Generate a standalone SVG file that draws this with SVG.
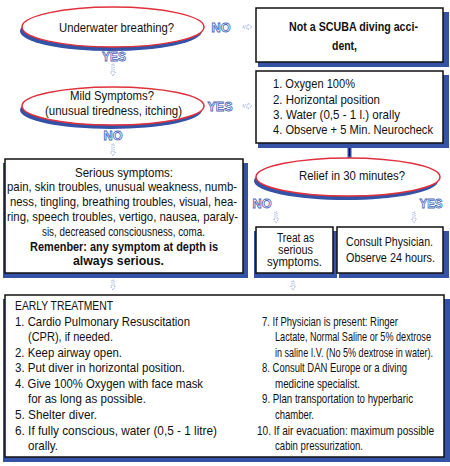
<svg xmlns="http://www.w3.org/2000/svg" width="450" height="466" viewBox="0 0 450 466">
<style>
.t{font-family:"Liberation Sans Narrow","Liberation Sans",Arial,sans-serif;font-size:13px;fill:#111}
.s{font-size:12px}
.b{font-weight:bold}
.m{text-anchor:middle}
.box{fill:#fff;stroke:#111;stroke-width:1.5}
.sh{fill:#3452a6}
.el{fill:#fff;stroke:#e0303c;stroke-width:1.5}
.lbl{font-family:"Liberation Sans Narrow","Liberation Sans",Arial,sans-serif;font-size:12px;font-weight:bold;fill:#fff;stroke:#4b67b8;stroke-width:0.8;text-anchor:middle}
.arr{fill:none;stroke:#8ea2d6;stroke-width:0.9;stroke-dasharray:1.2 1}
</style>

<g id="connectors">
  <line x1="349.5" y1="143" x2="349.5" y2="158" stroke="#3452a6" stroke-width="4"/>
  <line x1="349.5" y1="143" x2="349.5" y2="156" stroke="#111" stroke-width="1.2"/>
  <path class="arr" d="M243,26 H248 V24 L252,27 L248,30 V28 H243 Z"/>
  <path class="arr" d="M243,105 H248 V103 L252,106 L248,109 V107 H243 Z"/>
  <path class="arr" d="M112,64 V72 H110.5 L113,76 L115.5,72 H114 V64 Z"/>
  <path class="arr" d="M112,144 V152 H110.5 L113,156 L115.5,152 H114 V144 Z"/>
  <path class="arr" d="M275,212 V219 H273.5 L276,223 L278.5,219 H277 V212 Z"/>
  <path class="arr" d="M413,212 V219 H411.5 L414,223 L416.5,219 H415 V212 Z"/>
  <path class="arr" d="M112,280 V286 H110.5 L113,290 L115.5,286 H114 V280 Z"/>
  <path class="arr" d="M292,281 V286 H290.5 L293,290 L295.5,286 H294 V281 Z"/>
  <text class="lbl" x="221" y="31.5" textLength="19" lengthAdjust="spacingAndGlyphs">NO</text>
  <text class="lbl" x="114" y="60.5" textLength="24" lengthAdjust="spacingAndGlyphs">YES</text>
  <text class="lbl" x="220" y="110.5" textLength="25" lengthAdjust="spacingAndGlyphs">YES</text>
  <text class="lbl" x="113" y="139.5" textLength="19" lengthAdjust="spacingAndGlyphs">NO</text>
  <text class="lbl" x="262" y="207.5" textLength="19" lengthAdjust="spacingAndGlyphs">NO</text>
  <text class="lbl" x="431" y="207.5" textLength="23" lengthAdjust="spacingAndGlyphs">YES</text>
</g>

<g id="underwater">
  <ellipse class="sh" cx="111" cy="31" rx="91" ry="20"/>
  <ellipse class="el" cx="113" cy="27" rx="91" ry="20"/>
  <text class="t m" x="116.5" y="32" textLength="115" lengthAdjust="spacingAndGlyphs">Underwater breathing?</text>
</g>

<g id="not-scuba">
  <rect class="sh" x="258" y="12" width="191" height="55"/>
  <rect class="box" x="256" y="8" width="187" height="54"/>
  <text class="t b m" x="353.5" y="31" textLength="129" lengthAdjust="spacingAndGlyphs">Not a SCUBA diving acci-</text>
  <text class="t b m" x="344.5" y="50" textLength="25" lengthAdjust="spacingAndGlyphs">dent,</text>
</g>

<g id="mild">
  <ellipse class="sh" cx="111" cy="110" rx="91" ry="19"/>
  <ellipse class="el" cx="113" cy="106" rx="91" ry="19"/>
  <text class="t m" x="112" y="100" textLength="84" lengthAdjust="spacingAndGlyphs">Mild Symptoms?</text>
  <text class="t m" x="113.5" y="115" textLength="137" lengthAdjust="spacingAndGlyphs">(unusual tiredness, itching)</text>
</g>

<g id="oxygen">
  <rect class="sh" x="258" y="75" width="191" height="73"/>
  <rect class="box" x="256" y="71" width="187" height="72"/>
  <text class="t" x="273" y="88" textLength="82" lengthAdjust="spacingAndGlyphs">1. Oxygen 100%</text>
  <text class="t" x="273" y="104" textLength="107" lengthAdjust="spacingAndGlyphs">2. Horizontal position</text>
  <text class="t" x="273" y="119" textLength="127" lengthAdjust="spacingAndGlyphs">3. Water (0,5 - 1 l.) orally</text>
  <text class="t" x="273" y="134" textLength="160" lengthAdjust="spacingAndGlyphs">4. Observe + 5 Min. Neurocheck</text>
</g>

<g id="serious">
  <rect class="sh" x="3" y="163" width="245" height="115"/>
  <rect class="box" x="5" y="159" width="238" height="114"/>
  <text class="t m" x="124" y="177" textLength="98" lengthAdjust="spacingAndGlyphs">Serious symptoms:</text>
  <text class="t m" x="122" y="191" textLength="230" lengthAdjust="spacingAndGlyphs">pain, skin troubles, unusual weakness, numb-</text>
  <text class="t m" x="123.5" y="206" textLength="227" lengthAdjust="spacingAndGlyphs">ness, tingling, breathing troubles, visual, hea-</text>
  <text class="t m" x="122.5" y="221" textLength="231" lengthAdjust="spacingAndGlyphs">ring, speech troubles, vertigo, nausea, paraly-</text>
  <text class="t m" x="123.5" y="236" textLength="163" lengthAdjust="spacingAndGlyphs">sis, decreased consciousness, coma.</text>
  <text class="t b m" x="124" y="251" textLength="188" lengthAdjust="spacingAndGlyphs">Remenber: any symptom at depth is</text>
  <text class="t b m" x="118.5" y="265" textLength="91" lengthAdjust="spacingAndGlyphs">always serious.</text>
</g>

<g id="relief">
  <ellipse class="sh" cx="346" cy="181" rx="92" ry="19"/>
  <ellipse class="el" cx="348" cy="177" rx="92" ry="19"/>
  <text class="t m" x="352" y="180" textLength="106" lengthAdjust="spacingAndGlyphs">Relief in 30 minutes?</text>
</g>

<g id="treat">
  <rect class="sh" x="254" y="231" width="83" height="47"/>
  <rect class="box" x="256" y="227" width="77" height="46"/>
  <text class="t s m" x="295.5" y="241.5" textLength="37" lengthAdjust="spacingAndGlyphs">Treat as</text>
  <text class="t s m" x="295.5" y="253.5" textLength="35" lengthAdjust="spacingAndGlyphs">serious</text>
  <text class="t s m" x="294.5" y="266" textLength="55" lengthAdjust="spacingAndGlyphs">symptoms.</text>
</g>

<g id="consult">
  <rect class="sh" x="339" y="231" width="110" height="47"/>
  <rect class="box" x="337" y="227" width="106" height="46"/>
  <text class="t" x="346" y="246" textLength="87" lengthAdjust="spacingAndGlyphs">Consult Physician.</text>
  <text class="t" x="346" y="262" textLength="89" lengthAdjust="spacingAndGlyphs">Observe 24 hours.</text>
</g>

<g id="early-treatment">
  <rect class="sh" x="3" y="299" width="447" height="163"/>
  <rect class="box" x="5" y="295" width="439" height="162"/>
  <text class="t" x="15" y="310" textLength="98" lengthAdjust="spacingAndGlyphs">EARLY TREATMENT</text>
  <text class="t" x="15" y="326" textLength="175" lengthAdjust="spacingAndGlyphs">1. Cardio Pulmonary Resuscitation</text>
  <text class="t" x="28" y="341" textLength="85" lengthAdjust="spacingAndGlyphs">(CPR), if needed.</text>
  <text class="t" x="15" y="357" textLength="107" lengthAdjust="spacingAndGlyphs">2. Keep airway open.</text>
  <text class="t" x="15" y="372" textLength="170" lengthAdjust="spacingAndGlyphs">3. Put diver in horizontal position.</text>
  <text class="t" x="15" y="388" textLength="188" lengthAdjust="spacingAndGlyphs">4. Give 100% Oxygen with face mask</text>
  <text class="t" x="28" y="403" textLength="118" lengthAdjust="spacingAndGlyphs">for as long as possible.</text>
  <text class="t" x="15" y="419" textLength="82" lengthAdjust="spacingAndGlyphs">5. Shelter diver.</text>
  <text class="t" x="15" y="435" textLength="202" lengthAdjust="spacingAndGlyphs">6. If fully conscious, water (0,5 - 1 litre)</text>
  <text class="t" x="28" y="450" textLength="30" lengthAdjust="spacingAndGlyphs">orally.</text>
  <text class="t" x="262" y="326" textLength="136" lengthAdjust="spacingAndGlyphs">7. If Physician is present: Ringer</text>
  <text class="t" x="275" y="341" textLength="156" lengthAdjust="spacingAndGlyphs">Lactate, Normal Saline or 5% dextrose</text>
  <text class="t" x="275" y="357" textLength="158" lengthAdjust="spacingAndGlyphs">in saline I.V. (No 5% dextrose in water).</text>
  <text class="t" x="262" y="372" textLength="145" lengthAdjust="spacingAndGlyphs">8. Consult DAN Europe or a diving</text>
  <text class="t" x="275" y="388" textLength="85" lengthAdjust="spacingAndGlyphs">medicine specialist.</text>
  <text class="t" x="262" y="403" textLength="151" lengthAdjust="spacingAndGlyphs">9. Plan transportation to hyperbaric</text>
  <text class="t" x="275" y="419" textLength="39" lengthAdjust="spacingAndGlyphs">chamber.</text>
  <text class="t" x="257" y="435" textLength="177" lengthAdjust="spacingAndGlyphs">10. If air evacuation: maximum possible</text>
  <text class="t" x="275" y="450" textLength="88" lengthAdjust="spacingAndGlyphs">cabin pressurization.</text>
</g>
</svg>
